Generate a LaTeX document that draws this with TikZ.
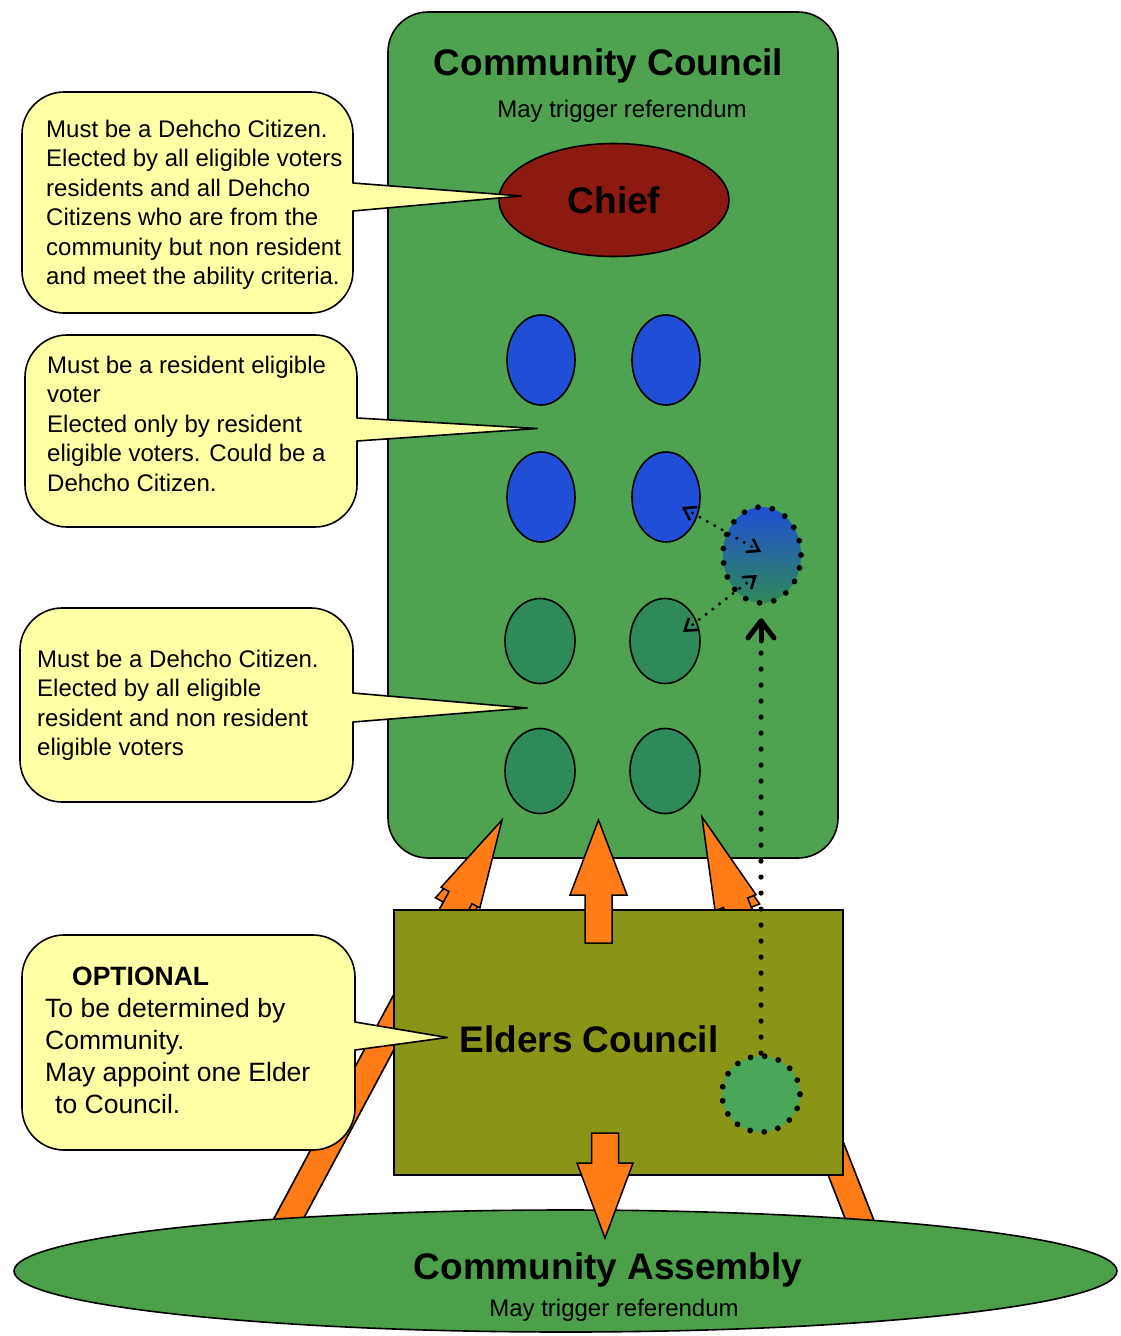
\documentclass[tikz,border=0pt]{standalone}
\usepackage{fontspec}
\setmainfont{Liberation Sans}
\usetikzlibrary{shapes.geometric,arrows.meta,calc}
\definecolor{councilgreen}{RGB}{78,162,80}
\definecolor{assemblygreen}{RGB}{76,160,74}
\definecolor{chiefred}{RGB}{140,26,16}
\definecolor{seatblue}{RGB}{32,78,214}
\definecolor{seatgreen}{RGB}{46,138,88}
\definecolor{elderolive}{RGB}{138,148,22}
\definecolor{calloutyellow}{RGB}{255,255,166}
\definecolor{arroworange}{RGB}{255,124,22}
\definecolor{elderseat}{RGB}{74,166,88}

% rounded callout box with a pointer on its right side
\newcommand{\calloutshape}[8]{%
  \path[calloutstyle] ({#1+42},#2) -- ({#3-42},#2)
    .. controls ({#3-19},#2) and (#3,{#2+19}) .. (#3,{#2+42})
    -- (#3,#5) -- (#7) -- (#3,#6)
    -- (#3,{#4-42}) .. controls (#3,{#4-19}) and ({#3-19},#4) .. ({#3-42},#4)
    -- ({#1+42},#4) .. controls ({#1+19},#4) and (#1,{#4-19}) .. (#1,{#4-42})
    -- (#1,{#2+42}) .. controls (#1,{#2+19}) and ({#1+19},#2) .. ({#1+42},#2)
    -- cycle;}

% block arrow: tip #1, shaft end #2, head length #3, head half width #4, shaft half width #5
\newcommand{\blockarrow}[5]{%
  \coordinate (#1-hb) at ($(#1)!#3!(#2)$);
  \path[orangearrow] (#1)
    -- ($(#1-hb)!#4!90:(#1)$)
    -- ($(#1-hb)!#5!90:(#1)$)
    -- ($(#2)!#5!90:(#1)$)
    -- ($(#2)!#5!-90:(#1)$)
    -- ($(#1-hb)!#5!-90:(#1)$)
    -- ($(#1-hb)!#4!-90:(#1)$)
    -- cycle;}

\begin{document}
\begin{tikzpicture}[x=1pt,y=-1pt,
  outline/.style={draw=black,line width=1.6pt},
  seat/.style={ellipse,outline,inner sep=0pt,minimum width=68pt,minimum height=90pt},
  blueseat/.style={seat,fill=seatblue},
  greenseat/.style={seat,fill=seatgreen,minimum width=70pt,minimum height=85pt},
  bigdots/.style={draw=black,line width=5.8pt,dash pattern=on 0pt off 14.5pt,line cap=round},
  meddots/.style={draw=black,line width=5.2pt,dash pattern=on 0pt off 16pt,line cap=round},
  smalldots/.style={draw=black,line width=3.4pt,dash pattern=on 0pt off 8.5pt,line cap=round},
  chevron/.style={draw=black,line width=5pt,line cap=round,line join=round},
  title/.style={font=\fontsize{37}{40}\selectfont\bfseries,anchor=base,inner sep=0pt},
  subtitle/.style={font=\fontsize{24}{28}\selectfont,anchor=base,inner sep=0pt},
  callouttext/.style={font=\fontsize{24}{29.5}\selectfont,align=left,anchor=north west,inner sep=0pt},
  calloutstyle/.style={fill=calloutyellow,draw=black,line width=1.6pt,line join=round},
  orangearrow/.style={fill=arroworange,draw=black,line width=1.5pt,line join=miter}
]
\useasboundingbox (0,0) rectangle (1120,1336);
\fill[white] (0,0) rectangle (1120,1336);

% ---------- Community Council ----------
\node[outline,fill=councilgreen,rounded corners=40pt,minimum width=450pt,minimum height=846pt,inner sep=0pt] (council) at (613,435) {};
\node[title] (counciltitle) at (608.5,75) {Community Council};
\node[subtitle] (councilsub) at (622,117) {May trigger referendum};
\node[ellipse,outline,fill=chiefred,minimum width=230pt,minimum height=113pt,inner sep=0pt,
      font=\fontsize{37}{40}\selectfont\bfseries] (chief) at (614,200) {Chief};

\node[blueseat] (b1) at (541,360) {};
\node[blueseat] (b2) at (666,360) {};
\node[blueseat] (b3) at (541,497) {};
\node[blueseat] (b4) at (666,497) {};
\node[greenseat] (g1) at (540,641) {};
\node[greenseat] (g2) at (665,641) {};
\node[greenseat] (g3) at (540,771) {};
\node[greenseat] (g4) at (665,771) {};

\node[ellipse,minimum width=78pt,minimum height=96pt,inner sep=0pt,top color=seatblue,bottom color=seatgreen,bigdots] (dc) at (762,555) {};

\draw[smalldots,{Straight Barb[length=11pt,width=15pt,line width=2.6pt]}-{Straight Barb[length=11pt,width=15pt,line width=2.6pt]}]
  ($(b4.center)+(16,10)$) -- ($(dc.center)+(-1,-3)$);
\draw[smalldots,{Straight Barb[length=11pt,width=15pt,line width=2.6pt]}-{Straight Barb[length=11pt,width=15pt,line width=2.6pt]}]
  ($(g2.center)+(18,-9)$) -- ($(dc.center)+(-5,20)$);

% ---------- long arrows from the assembly to the council ----------
\coordinate (LT) at (502,820);
\coordinate (LB) at (271.9,1250);
\coordinate (LT2) at ($(LT)!12pt!(LB)$);
\coordinate (RT) at (702,817);
\coordinate (RB) at (871.5,1250);
\coordinate (RT2) at ($(RT)!10pt!(RB)$);
\blockarrow{LT2}{LB}{88pt}{22pt}{13pt}
\blockarrow{LT}{LB}{88pt}{22pt}{13pt}
\blockarrow{RT2}{RB}{92pt}{22pt}{13pt}
\blockarrow{RT}{RB}{92pt}{22pt}{13pt}

% ---------- Community Assembly ----------
\node[ellipse,outline,fill=assemblygreen,minimum width=1103pt,minimum height=122pt,inner sep=0pt] (assembly) at (565.5,1271) {};
\node[title] (assemblytitle) at (608,1279) {Community Assembly};
\node[subtitle] (assemblysub) at (614,1316) {May trigger referendum};

% ---------- Elders Council ----------
\node[outline,fill=elderolive,minimum width=449pt,minimum height=265pt,inner sep=0pt] (elders) at (618.5,1042.5) {};
\node[title] (elderstitle) at (589,1052) {Elders Council};
\node[ellipse,minimum width=78pt,minimum height=76pt,inner sep=0pt,fill=elderseat,bigdots,dash pattern=on 0pt off 14.2pt] (ed) at (761,1094) {};

% dotted link from the elder seat up to the shared seat, with a heavy open arrowhead
\coordinate (vtip) at ($(ed.north |- dc.south)+(0,15)$);
\draw[meddots] (ed.north) -- ($(vtip)+(0,24)$);
\draw[chevron] ($(vtip)+(-13,17)$) -- (vtip) -- ($(vtip)+(13,17)$);
\draw[chevron] (vtip) -- ($(vtip)+(0,20)$);

% ---------- central arrows ----------
\coordinate (UT) at (598.5,820);
\coordinate (UB) at (598.5,943);
\blockarrow{UT}{UB}{75pt}{28.5pt}{13.5pt}
\coordinate (DT) at (605,1238);
\coordinate (DB) at (605,1133);
\blockarrow{DT}{DB}{75pt}{28pt}{13.5pt}

% ---------- callouts ----------
\coordinate (tip1) at ($(chief.west)+(23,-4)$);
\coordinate (tip2) at ($(b1.south)!0.5!(b3.north)+(-4,0)$);
\coordinate (tip3) at ($(g1.south)!0.5!(g3.north)+(-13,2)$);
\coordinate (tip4) at ($(elders.west)+(54,-5)$);

\calloutshape{22}{92}{353}{313}{183}{211}{tip1}{}
\node[callouttext] (c1text) at (46,119.5) {Must be a Dehcho Citizen.\\Elected by all eligible voters\\residents and all Dehcho\\Citizens who are from the\\community but non resident\\and meet the ability criteria.};

\calloutshape{25}{335}{357}{527}{418}{441}{tip2}{}
\node[callouttext] (c2text) at (47,355.5) {Must be a resident eligible\\voter\\Elected only by resident\\eligible voters. Could be a\\Dehcho Citizen.};

\calloutshape{20}{608}{353}{802}{693}{722}{tip3}{}
\node[callouttext] (c3text) at (37,649.5) {Must be a Dehcho Citizen.\\Elected by all eligible\\resident and non resident\\eligible voters};

\calloutshape{22}{935}{355}{1150}{1022}{1050}{tip4}{}
\node[callouttext,font=\fontsize{26.5}{32}\selectfont] (c4text) at (45,966.5) {\hspace*{27pt}\textbf{OPTIONAL}\\To be determined by\\Community.\\May appoint one Elder\\\hspace*{10pt}to Council.};

\end{tikzpicture}
\end{document}
